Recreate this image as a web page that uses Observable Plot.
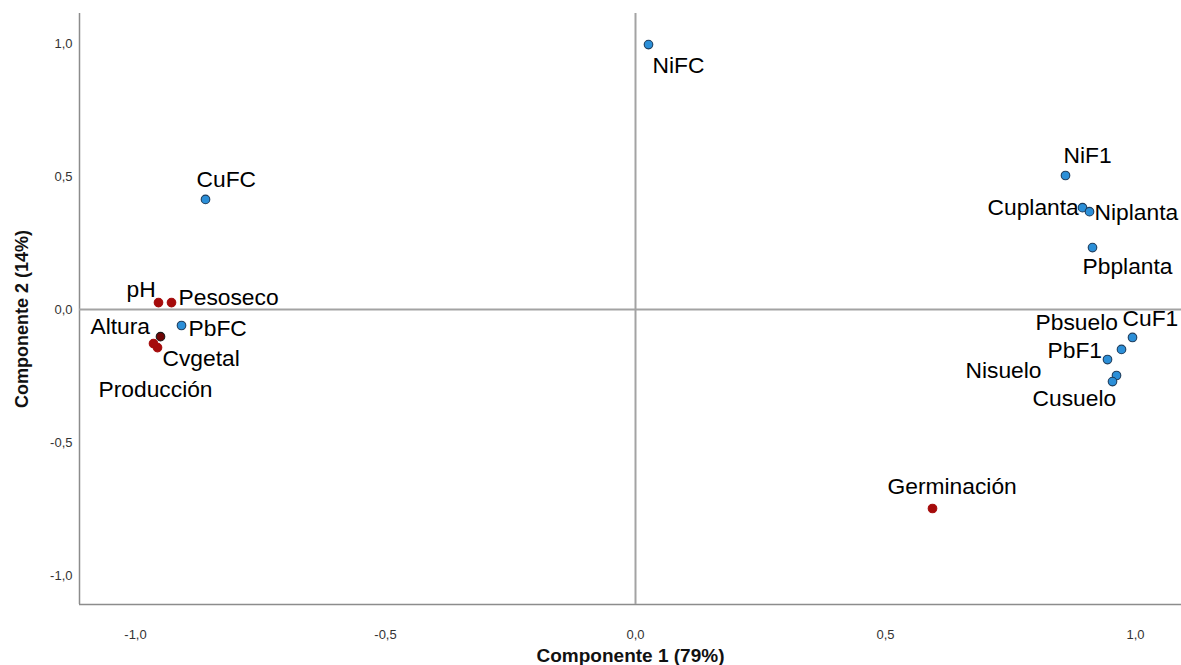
<!DOCTYPE html>
<html>
<head>
<meta charset="utf-8">
<script src="https://cdn.jsdelivr.net/npm/d3@7"></script>
<script src="https://cdn.jsdelivr.net/npm/@observablehq/plot@0.6"></script>
<style>
  html, body { margin: 0; padding: 0; background: #fff; }
  #chart svg { display: block; }
</style>
</head>
<body>
<div id="chart"></div>
<script>
// ---- data (component loadings) ----
const variables = ["NiFC","CuFC","pH","Pesoseco","PbFC","Altura","Cvgetal","Producción",
  "NiF1","Cuplanta","Niplanta","Pbplanta","CuF1","Pbsuelo","PbF1","Nisuelo","Cusuelo","Germinación"];
const comp1 = [0.026,-0.860,-0.954,-0.928,-0.908,-0.950,-0.956,-0.964,
  0.860,0.894,0.908,0.914,0.994,0.972,0.944,0.962,0.954,0.594];
const comp2 = [0.996,0.414,0.026,0.026,-0.060,-0.102,-0.143,-0.128,
  0.504,0.383,0.368,0.233,-0.105,-0.150,-0.188,-0.248,-0.271,-0.748];
const tipo = ["Metal","Metal","Agronómica","Agronómica","Metal","Agronómica (sel.)","Agronómica","Agronómica",
  "Metal","Metal","Metal","Metal","Metal","Metal","Metal","Metal","Metal","Agronómica"];
const xTicks = [-1, -0.5, 0, 0.5, 1];
const yTicks = [-1, -0.5, 0, 0.5, 1];
const xTitle = "Componente 1 (79%)";
const yTitle = "Componente 2 (14%)";

// ---- layout / style config ----
const xDomain = [-1.112, 1.092];
const yDomain = [-1.109, 1.113];
const labelPlace = {
  "NiFC": [4, 21], "CuFC": [-9, -20], "pH": [-32, -13], "Pesoseco": [7, -5],
  "PbFC": [7, 3], "Altura": [-70, -10], "Cvgetal": [5, 11], "Producción": [-55, 46],
  "NiF1": [-2, -20], "Cuplanta": [-95, 0], "Niplanta": [5, 1], "Pbplanta": [-10, 19],
  "CuF1": [-10, -19], "Pbsuelo": [-86, -27], "PbF1": [-60, -9], "Nisuelo": [-151, -5],
  "Cusuelo": [-80, 17], "Germinación": [-45, -22]
};
const fillColors = {"Metal": "#2b8fd8", "Agronómica": "#a50b0b", "Agronómica (sel.)": "#6e0505"};
const strokeColors = {"Metal": "#1d3c5c", "Agronómica": "#a50b0b", "Agronómica (sel.)": "#1a1a1a"};

const data = variables.map((v, i) => ({name: v, c1: comp1[i], c2: comp2[i], tipo: tipo[i]}));
const fmt = t => t.toFixed(1).replace(".", ",");

const labelMarks = data.map(d => Plot.text([d], {
  x: "c1", y: "c2", text: "name",
  textAnchor: "start", lineAnchor: "middle",
  dx: labelPlace[d.name][0], dy: labelPlace[d.name][1],
  fontSize: 22.8, fill: "#000"
}));

const chart = Plot.plot({
  width: 1181,
  height: 665,
  marginLeft: 79,
  marginRight: 0,
  marginTop: 13,
  marginBottom: 61,
  x: {domain: xDomain},
  y: {domain: yDomain},
  style: {fontFamily: "'Liberation Sans', Arial, sans-serif", background: "#fff"},
  marks: [
    Plot.axisX({ticks: xTicks, tickFormat: fmt, tickSize: 0, tickPadding: 25, fontSize: 13, color: "#333", label: null}),
    Plot.axisY({ticks: yTicks, tickFormat: fmt, tickSize: 0, tickPadding: 7, fontSize: 13, color: "#333", label: null}),
    Plot.ruleX([xDomain[0]], {stroke: "#8c8c8c", strokeWidth: 1.5}),
    Plot.ruleY([yDomain[0]], {stroke: "#8c8c8c", strokeWidth: 1.5}),
    Plot.ruleX([0], {stroke: "#a3a3a3", strokeWidth: 2}),
    Plot.ruleY([0], {stroke: "#a3a3a3", strokeWidth: 2}),
    Plot.dot(data, {x: "c1", y: "c2", r: 4.3,
      fill: d => fillColors[d.tipo], stroke: d => strokeColors[d.tipo], strokeWidth: 1.1}),
    ...labelMarks,
    Plot.text([xTitle], {frameAnchor: "bottom", dy: 57, textAnchor: "middle", fontSize: 19, fontWeight: "bold", fill: "#111"}),
    Plot.text([yTitle], {frameAnchor: "left", dx: -57, dy: 10, textAnchor: "middle", rotate: -90, fontSize: 18, fontWeight: "bold", fill: "#111"})
  ]
});
document.getElementById("chart").appendChild(chart);
</script>
</body>
</html>
